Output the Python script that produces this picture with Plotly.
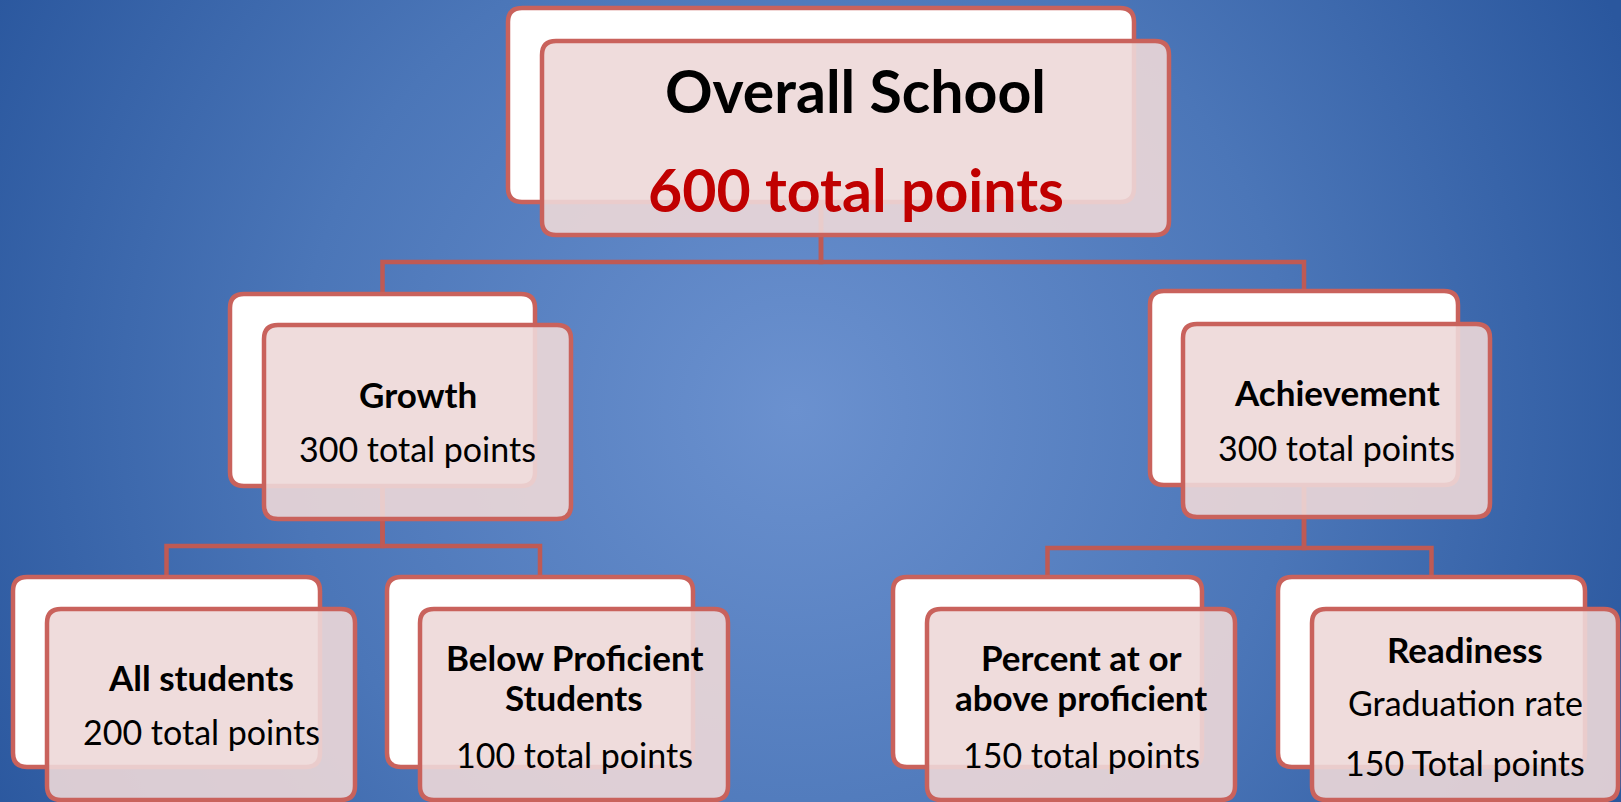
import base64
import plotly.graph_objects as go

# ---------------- data ----------------
node_ids = ["root", "growth", "achievement", "all", "below", "percent", "readiness"]
node_titles = [
    ["Overall School"],
    ["Growth"],
    ["Achievement"],
    ["All students"],
    ["Below Proficient", "Students"],
    ["Percent at or", "above proficient"],
    ["Readiness"],
]
node_details = [
    ["600 total points"],
    ["300 total points"],
    ["300 total points"],
    ["200 total points"],
    ["100 total points"],
    ["150 total points"],
    ["Graduation rate", "150 Total points"],
]
edges = [("root", "growth"), ("root", "achievement"),
         ("growth", "all"), ("growth", "below"),
         ("achievement", "percent"), ("achievement", "readiness")]

# ---------------- layout geometry (pixels) ----------------
W, H = 1621, 802
back_boxes = {
    "root": (508, 8, 1134, 202),
    "growth": (230, 294, 535, 486),
    "achievement": (1150, 291, 1458, 485),
    "all": (13, 577, 320, 767),
    "below": (387, 577, 693, 767),
    "percent": (893, 577, 1202, 767),
    "readiness": (1278, 577, 1585, 767),
}
front_boxes = {
    "root": (542, 41, 1169, 235),
    "growth": (264, 325, 571, 519),
    "achievement": (1183, 324, 1490, 517),
    "all": (47, 609, 355, 800),
    "below": (420, 609, 728, 800),
    "percent": (927, 609, 1235, 800),
    "readiness": (1312, 609, 1618, 800),
}
bus_y = {"root": 262, "growth": 546, "achievement": 548}
line_y = {
    "root": [90, 189],
    "growth": [394, 448],
    "achievement": [392, 447],
    "all": [677, 731],
    "below": [657, 697, 754],
    "percent": [657, 697, 754],
    "readiness": [649, 702, 762],
}

BORDER = "#c9625c"
CONNECT = "#bf5a54"
FRONT_FILL = "rgba(237,216,216,0.9)"
FONT = "Lato"


def rounded(x0, y0, x1, y1, r=14):
    return (f"M {x0+r},{y0} L {x1-r},{y0} Q {x1},{y0} {x1},{y0+r} "
            f"L {x1},{y1-r} Q {x1},{y1} {x1-r},{y1} L {x0+r},{y1} "
            f"Q {x0},{y1} {x0},{y1-r} L {x0},{y0+r} Q {x0},{y0} {x0+r},{y0} Z")


shapes = []
# connectors
for parent, child in edges:
    px0, py0, px1, py1 = back_boxes[parent]
    cx0, cy0, cx1, cy1 = back_boxes[child]
    pxc = (px0 + px1) / 2
    cxc = (cx0 + cx1) / 2
    by = bus_y[parent]
    shapes.append(dict(type="path",
                       path=f"M {pxc},{py1} L {pxc},{by} L {cxc},{by} L {cxc},{cy0}",
                       line=dict(color=CONNECT, width=4.5), layer="above"))
# back boxes
for nid in node_ids:
    shapes.append(dict(type="path", path=rounded(*back_boxes[nid]),
                       fillcolor="white", line=dict(color=BORDER, width=4.5),
                       layer="above"))
# front boxes
for nid in node_ids:
    shapes.append(dict(type="path", path=rounded(*front_boxes[nid]),
                       fillcolor=FRONT_FILL, line=dict(color=BORDER, width=4.5),
                       layer="above"))

annotations = []
for i, nid in enumerate(node_ids):
    fx0, fy0, fx1, fy1 = front_boxes[nid]
    xc = (fx0 + fx1) / 2
    ys = line_y[nid]
    lines = [(t, True) for t in node_titles[i]] + [(t, False) for t in node_details[i]]
    for (txt, bold), y in zip(lines, ys):
        if nid == "root":
            size = 59
            color = "#000000" if bold else "#c00000"
            weight = "bold"
        else:
            size = 35 if bold else 34
            color = "#000000"
            weight = "bold" if bold else "normal"
        annotations.append(dict(x=xc, y=y, xref="x", yref="y", text=txt,
                                showarrow=False, xanchor="center", yanchor="middle",
                                font=dict(family=FONT, size=size, color=color,
                                          weight=weight)))

svg = f"""<svg xmlns='http://www.w3.org/2000/svg' width='{W}' height='{H}' viewBox='0 0 {W} {H}'>
<defs><radialGradient id='g' gradientUnits='userSpaceOnUse' cx='795' cy='410' r='910'>
<stop offset='0' stop-color='#6b91cf'/><stop offset='0.55' stop-color='#4b76b8'/>
<stop offset='1' stop-color='#2a579e'/></radialGradient></defs>
<rect width='{W}' height='{H}' fill='url(#g)'/></svg>"""
bg = "data:image/svg+xml;base64," + base64.b64encode(svg.encode()).decode()

fig = go.Figure()
fig.update_layout(
    width=W, height=H,
    margin=dict(l=0, r=0, t=0, b=0),
    paper_bgcolor="#4b76b8", plot_bgcolor="rgba(0,0,0,0)",
    xaxis=dict(range=[0, W], visible=False, showgrid=False, zeroline=False),
    yaxis=dict(range=[H, 0], visible=False, showgrid=False, zeroline=False),
    shapes=shapes, annotations=annotations, showlegend=False,
    images=[dict(source=bg, xref="paper", yref="paper", x=0, y=1, sizex=1, sizey=1,
                 sizing="stretch", xanchor="left", yanchor="top", layer="below")],
)
fig.write_html("out.html", config={"displayModeBar": False},
               post_script="document.body.style.margin='0';document.body.style.overflow='hidden';")
